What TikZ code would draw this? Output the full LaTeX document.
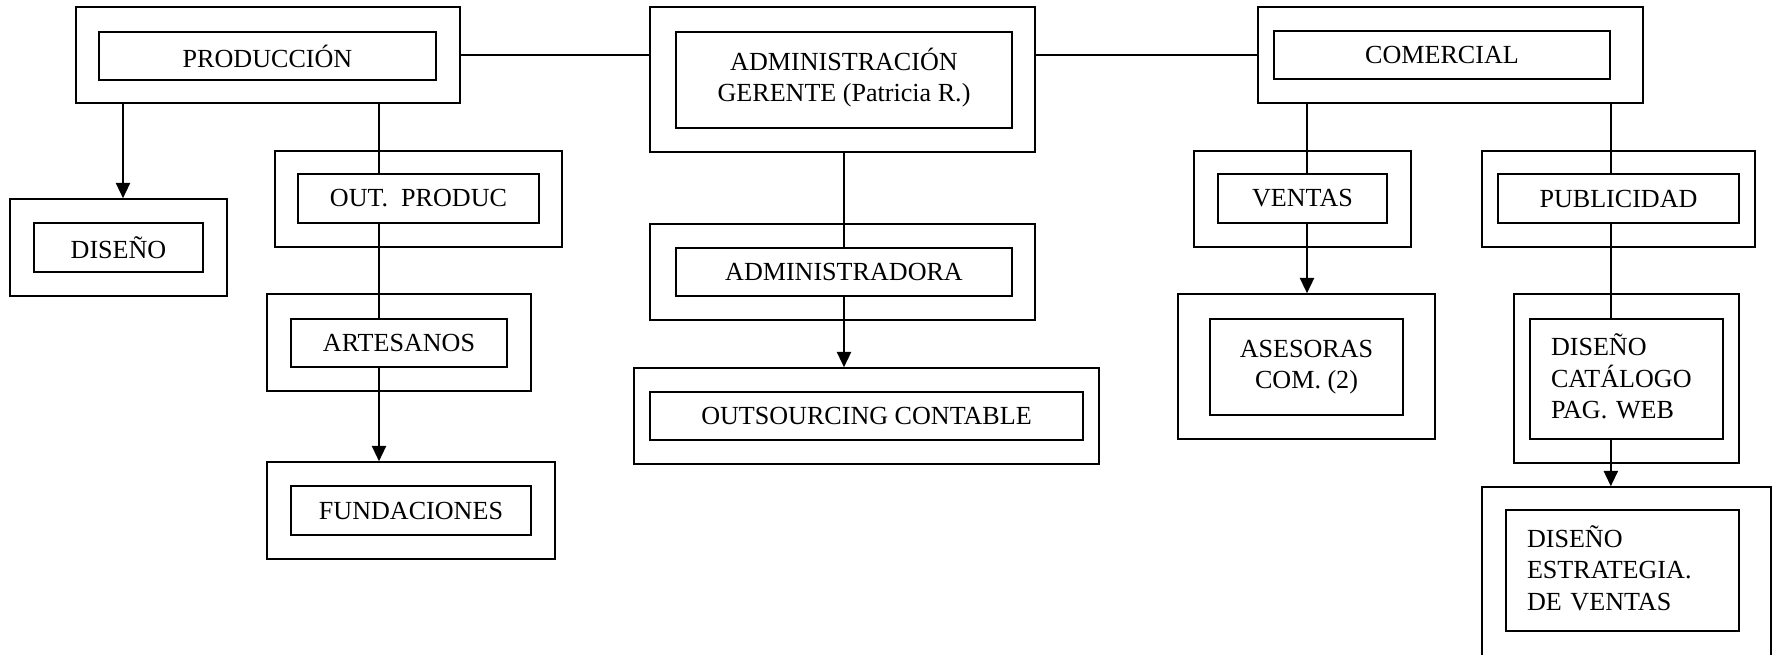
\documentclass[tikz,border=0pt]{standalone}
\usepackage{fontspec}
\setmainfont{Liberation Serif}
\usetikzlibrary{arrows.meta}

\newcommand\px{0.46pt}
\tikzset{
    outerbox/.style 2 args={draw, line width=0.75pt, inner sep=0pt,
        minimum width=#1*\px, minimum height=#2*\px},
    innerbox/.style 2 args={draw, line width=0.75pt, inner sep=0pt, align=center,
        minimum width=#1*\px, minimum height=#2*\px,
        font=\fontsize{12}{14.5}\selectfont},
    conn/.style={line width=0.75pt},
    arr/.style={line width=0.75pt, -{Triangle[length=7pt,width=6.5pt]}}
}

\begin{document}
\begin{tikzpicture}[x=\px, y=-\px]
    \useasboundingbox (0,0) rectangle (1779,654);
    \clip (0,0) rectangle (1779,654);

    % Produccion branch
    \node[outerbox={384}{96}] (prodO) at (268,55) {};
    \node[innerbox={337}{48}] (prodI) at (267.5,56) {PRODUCCIÓN};
    \node[outerbox={217}{97}] (disO) at (118.5,247.5) {};
    \node[innerbox={169}{49}] (disI) at (118.5,247.5) {DISEÑO};
    \node[outerbox={287}{96}] (outO) at (418.5,199) {};
    \node[innerbox={241}{49}] (outI) at (418.5,198.5) {OUT.\ \ PRODUC};
    \node[outerbox={264}{97}] (artO) at (399,342.5) {};
    \node[innerbox={216}{48}] (artI) at (399,343) {ARTESANOS};
    \node[outerbox={288}{97}] (funO) at (411,510.5) {};
    \node[innerbox={240}{49}] (funI) at (411,510.5) {FUNDACIONES};

    % Administracion branch
    \node[outerbox={385}{145}] (admO) at (842.5,79.5) {};
    \node[innerbox={336}{96}] (admI) at (844,80)
        {ADMINISTRACI\smash{Ó}N\\GERENTE (Patricia R.)};
    \node[outerbox={385}{96}] (admaO) at (842.5,272) {};
    \node[innerbox={336}{48}] (admaI) at (844,272) {ADMINISTRADORA};
    \node[outerbox={465}{96}] (contO) at (866.5,416) {};
    \node[innerbox={433}{48}] (contI) at (866.5,416) {OUTSOURCING CONTABLE};

    % Comercial branch
    \node[outerbox={385}{96}] (comO) at (1450.5,55) {};
    \node[innerbox={336}{48}] (comI) at (1442,55) {COMERCIAL};
    \node[outerbox={217}{96}] (venO) at (1302.5,199) {};
    \node[innerbox={169}{49}] (venI) at (1302.5,198.5) {VENTAS};
    \node[outerbox={257}{145}] (asesO) at (1306.5,366.5) {};
    \node[innerbox={193}{96}] (asesI) at (1306.5,367) {ASESORAS\\COM. (2)};
    \node[outerbox={273}{96}] (pubO) at (1618.5,199) {};
    \node[innerbox={241}{49}] (pubI) at (1618.5,198.5) {PUBLICIDAD};
    \node[outerbox={225}{169}] (catO) at (1626.5,378.5) {};
    \node[innerbox={193}{120}, align=left, text width=151*\px] (catI) at (1626.5,379)
        {DISE\smash{Ñ}O\\CATÁLOGO\\PAG. WEB};
    \node[outerbox={289}{193}] (estO) at (1626.5,583.5) {};
    \node[innerbox={233}{121}, align=left, text width=191*\px] (estI) at (1622.5,570.5)
        {DISE\smash{Ñ}O\\ESTRATEGIA.\\DE VENTAS};

    \coordinate (xdis) at (123,0);
    \coordinate (xout) at (379,0);
    \coordinate (xven) at (1307,0);

    % top level links
    \draw[conn] (prodO.east) -- (prodO.east -| admO.west);
    \draw[conn] (admO.east |- comO.west) -- (comO.west);

    \draw[arr] (prodO.south -| xdis) -- (disO.north -| xdis);
    \draw[conn] (prodO.south -| xout) -- (outI.north -| xout);
    \draw[conn] (outI.south -| xout) -- (artI.north -| xout);
    \draw[arr] (artI.south -| xout) -- (funO.north -| xout);

    \draw[conn] (admO.south -| admI.south) -- (admaI.north);
    \draw[arr] (admaI.south) -- (contO.north -| admaI.south);

    \draw[conn] (comO.south -| xven) -- (venI.north -| xven);
    \draw[arr] (venI.south -| xven) -- (asesO.north -| xven);
    \draw[conn] (comO.south -| comI.east) -- (pubI.north -| comI.east);
    \draw[conn] (pubI.south -| comI.east) -- (catI.north -| comI.east);
    \draw[arr] (catI.south -| comI.east) -- (estO.north -| comI.east);
\end{tikzpicture}
\end{document}
